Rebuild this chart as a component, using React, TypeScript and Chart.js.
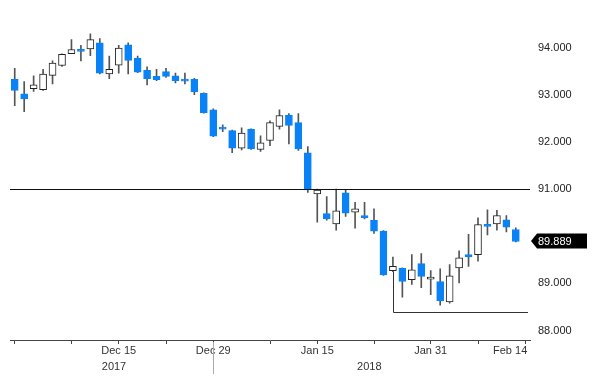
import React, { useEffect, useRef } from 'react';
import { Chart, registerables } from 'chart.js';

Chart.register(...registerables);

const categories = [
  'Nov 30', 'Dec 1', 'Dec 4', 'Dec 5', 'Dec 6', 'Dec 7', 'Dec 8', 'Dec 11', 'Dec 12', 'Dec 13',
  'Dec 14', 'Dec 15', 'Dec 18', 'Dec 19', 'Dec 20', 'Dec 21', 'Dec 22', 'Dec 25', 'Dec 26', 'Dec 27',
  'Dec 28', 'Dec 29', 'Jan 1', 'Jan 2', 'Jan 3', 'Jan 4', 'Jan 5', 'Jan 8', 'Jan 9', 'Jan 10',
  'Jan 11', 'Jan 12', 'Jan 15', 'Jan 16', 'Jan 17', 'Jan 18', 'Jan 19', 'Jan 22', 'Jan 23', 'Jan 24',
  'Jan 25', 'Jan 26', 'Jan 29', 'Jan 30', 'Jan 31', 'Feb 1', 'Feb 2', 'Feb 5', 'Feb 6', 'Feb 7',
  'Feb 8', 'Feb 9', 'Feb 12', 'Feb 13', 'Feb 14',
];

const opens = [
  93.33, 93.02, 93.13, 93.11, 93.41, 93.62, 93.87, 93.96, 93.97, 94.10,
  93.44, 93.63, 94.06, 93.78, 93.52, 93.39, 93.49, 93.40, 93.32, 93.33,
  93.03, 92.68, 92.31, 92.24, 91.87, 92.27, 91.84, 92.03, 92.33, 92.57,
  92.41, 91.77, 90.90, 90.48, 90.26, 90.92, 90.51, 90.44, 90.34, 90.11,
  89.27, 89.32, 89.08, 89.42, 89.09, 89.04, 88.61, 89.33, 89.61, 89.61,
  90.25, 90.26, 90.35, 90.14,
];
const highs = [
  93.56, 93.28, 93.40, 93.54, 93.72, 93.87, 94.17, 94.05, 94.29, 94.19,
  93.82, 94.05, 94.10, 93.82, 93.59, 93.54, 93.56, 93.46, 93.46, 93.35,
  93.04, 92.70, 92.36, 92.25, 92.30, 92.28, 92.13, 92.45, 92.68, 92.60,
  92.60, 91.90, 91.00, 90.84, 91.00, 90.98, 90.72, 90.72, 90.58, 90.12,
  89.56, 89.33, 89.61, 89.63, 89.27, 89.31, 89.40, 89.69, 90.04, 90.39,
  90.56, 90.55, 90.44, 90.18,
];
const lows = [
  92.77, 92.64, 93.07, 93.09, 93.23, 93.60, 93.87, 93.72, 93.83, 93.44,
  93.34, 93.46, 93.44, 93.47, 93.21, 93.30, 93.37, 93.25, 93.23, 93.00,
  92.61, 92.11, 92.22, 91.77, 91.83, 91.84, 91.80, 91.92, 92.27, 91.96,
  91.82, 90.93, 90.30, 90.34, 90.13, 90.42, 90.17, 90.37, 90.06, 89.17,
  89.25, 88.71, 88.98, 88.91, 88.76, 88.54, 88.58, 89.01, 89.36, 89.47,
  90.03, 90.13, 90.09, 89.88,
];
const closes = [
  93.09, 92.91, 93.21, 93.44, 93.67, 93.86, 93.96, 93.92, 94.17, 93.46,
  93.54, 93.99, 93.73, 93.48, 93.34, 93.32, 93.39, 93.30, 93.29, 93.06,
  92.62, 92.12, 92.27, 91.87, 92.19, 91.85, 91.98, 92.41, 92.56, 92.35,
  91.85, 90.98, 90.98, 90.37, 90.54, 90.49, 90.58, 90.39, 90.11, 89.18,
  89.36, 89.04, 89.29, 89.15, 89.10, 88.63, 89.16, 89.54, 89.56, 90.25,
  90.21, 90.44, 90.19, 89.889,
];

const yTickValues = [88, 89, 91, 92, 93, 94];
const xTickIndices = [0, 6, 11, 16, 21, 27, 32, 38, 44, 49, 54];
const monthLabelIndices = [11, 21, 32, 44, 54];
const monthLabelTexts = ['Dec 15', 'Dec 29', 'Jan 15', 'Jan 31', 'Feb 14'];
const yearLabelTexts = ['2017', '2018'];
const yearBoundaryIndex = 21;
const resistanceLevel = 91.0;
const supportLevel = 88.4;
const supportAnchorIndex = 40;
const lastPrice = 89.889;

const BLUE = '#0a82f7';
const FONT = '"Liberation Sans", Arial, sans-serif';

const overlayPlugin = {
  id: 'overlay',
  afterDatasetsDraw(chart: any) {
    const { ctx, chartArea, scales } = chart;
    const x = scales.x;
    const y = scales.y;
    ctx.save();
    ctx.lineWidth = 1;
    // resistance line
    const yr = Math.round(y.getPixelForValue(resistanceLevel)) + 0.5;
    ctx.strokeStyle = '#111';
    ctx.beginPath();
    ctx.moveTo(chartArea.left, yr);
    ctx.lineTo(chartArea.right, yr);
    ctx.stroke();
    // support line
    const xs = Math.round(x.getPixelForValue(supportAnchorIndex)) + 0.5;
    const ys = Math.round(y.getPixelForValue(supportLevel)) + 0.5;
    const ya = y.getPixelForValue(lows[supportAnchorIndex]);
    ctx.strokeStyle = '#333';
    ctx.beginPath();
    ctx.moveTo(xs, ya);
    ctx.lineTo(xs, ys);
    ctx.lineTo(chartArea.right - 2, ys);
    ctx.stroke();
    ctx.restore();
  },
  afterDraw(chart: any) {
    const { ctx, chartArea, scales } = chart;
    const x = scales.x;
    const y = scales.y;
    ctx.save();
    ctx.font = `11px ${FONT}`;
    ctx.fillStyle = '#333';
    ctx.textBaseline = 'middle';
    const labelY = chartArea.bottom + 11;
    monthLabelIndices.forEach((idx, k) => {
      const px = x.getPixelForValue(idx);
      if (k === monthLabelIndices.length - 1) {
        ctx.textAlign = 'right';
        ctx.fillText(monthLabelTexts[k], px + 2, labelY);
      } else {
        ctx.textAlign = 'center';
        ctx.fillText(monthLabelTexts[k], px, labelY);
      }
    });
    // year labels
    const xb = x.getPixelForValue(yearBoundaryIndex);
    const x0 = x.getPixelForValue(0);
    const xe = x.getPixelForValue(categories.length - 1);
    ctx.textAlign = 'center';
    ctx.fillText(yearLabelTexts[0], (x0 + xb) / 2, chartArea.bottom + 27);
    ctx.fillText(yearLabelTexts[1], (xb + xe) / 2, chartArea.bottom + 27);
    ctx.strokeStyle = '#aaa';
    ctx.lineWidth = 1;
    ctx.beginPath();
    ctx.moveTo(Math.round(xb) + 0.5, chartArea.bottom + 2);
    ctx.lineTo(Math.round(xb) + 0.5, chartArea.bottom + 34);
    ctx.stroke();
    // price tag
    const yc = Math.round(y.getPixelForValue(lastPrice));
    const tip = chartArea.right + 1;
    ctx.fillStyle = '#000';
    ctx.beginPath();
    ctx.moveTo(tip, yc);
    ctx.lineTo(tip + 6, yc - 7.5);
    ctx.lineTo(tip + 56, yc - 7.5);
    ctx.lineTo(tip + 56, yc + 7.5);
    ctx.lineTo(tip + 6, yc + 7.5);
    ctx.closePath();
    ctx.fill();
    ctx.fillStyle = '#fff';
    ctx.textAlign = 'left';
    ctx.fillText(lastPrice.toFixed(3), tip + 7, yc + 0.5);
    ctx.restore();
  },
};

export default function App() {
  const canvasRef = useRef<HTMLCanvasElement | null>(null);

  useEffect(() => {
    const canvas = canvasRef.current;
    if (!canvas) return;
    const isUp = (i: number) => closes[i] >= opens[i];
    const wickData = categories.map((_, i) => (i < highs.length ? [lows[i], highs[i]] : null));
    const bodyData = categories.map((_, i) =>
      i < opens.length ? [Math.min(opens[i], closes[i]), Math.max(opens[i], closes[i])] : null
    );
    const chart = new Chart(canvas, {
      type: 'bar',
      data: {
        labels: categories,
        datasets: [
          {
            label: 'wick',
            data: wickData as any,
            backgroundColor: '#555',
            borderWidth: 0,
            barThickness: 1,
            grouped: false,
            order: 2,
          } as any,
          {
            label: 'body',
            data: bodyData as any,
            backgroundColor: (c: any) => (isUp(c.dataIndex) ? '#ffffff' : BLUE),
            borderColor: (c: any) => (isUp(c.dataIndex) ? '#222' : BLUE),
            borderWidth: 1,
            borderSkipped: false,
            barThickness: 7,
            minBarLength: 2,
            grouped: false,
            order: 1,
          } as any,
        ],
      },
      options: {
        animation: false,
        responsive: true,
        maintainAspectRatio: false,
        layout: { padding: { left: 10, top: 10, right: 0, bottom: 0 } },
        plugins: { legend: { display: false }, tooltip: { enabled: false } },
        scales: {
          x: {
            type: 'category',
            offset: true,
            grid: {
              display: true,
              drawOnChartArea: false,
              drawTicks: true,
              tickLength: 4,
              offset: false,
              tickColor: (c: any) => (xTickIndices.includes(c.index) ? '#444' : 'rgba(0,0,0,0)'),
            },
            border: { display: true, color: '#444', width: 1 },
            ticks: { display: false, autoSkip: false },
            afterFit: (s: any) => {
              s.height = 47;
            },
          },
          y: {
            position: 'right',
            min: 87.8,
            max: 94.7,
            grid: { display: false, drawTicks: false },
            border: { display: false },
            afterBuildTicks: (s: any) => {
              s.ticks = yTickValues.map((v) => ({ value: v }));
            },
            ticks: {
              padding: 8,
              color: '#222',
              font: { family: FONT, size: 11 },
              callback: (v: any) => Number(v).toFixed(3),
            },
            afterFit: (s: any) => {
              s.width = 70;
            },
          },
        },
      } as any,
      plugins: [overlayPlugin],
    });
    return () => chart.destroy();
  }, []);

  return (
    <div style={{ position: 'fixed', left: 0, top: 0, width: 600, height: 387, background: '#fff' }}>
      <canvas ref={canvasRef} />
    </div>
  );
}
